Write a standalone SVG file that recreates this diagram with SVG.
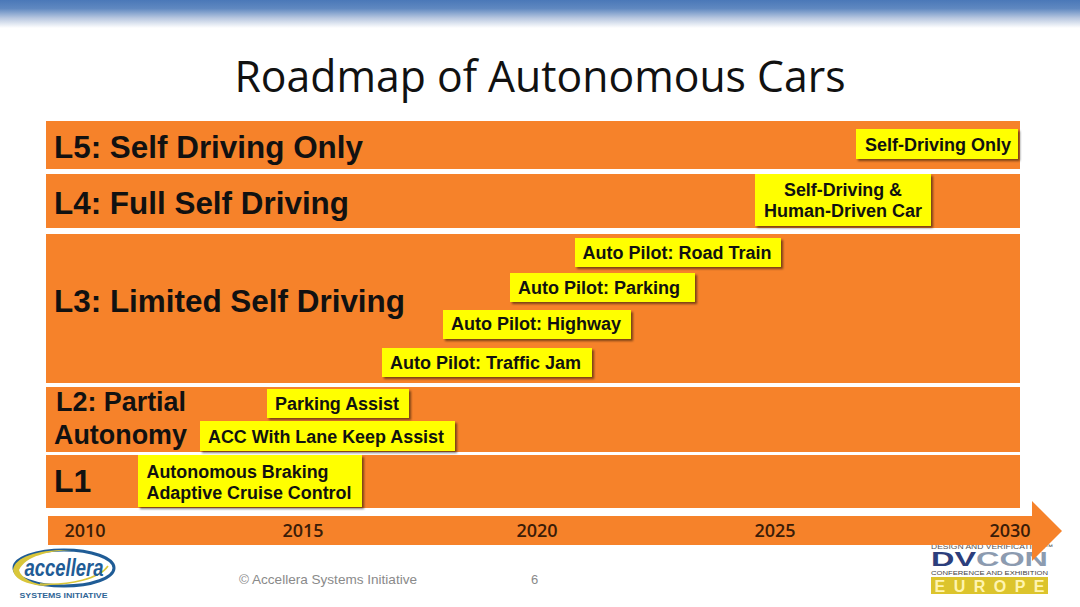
<svg xmlns="http://www.w3.org/2000/svg" width="1080" height="607" viewBox="0 0 1080 607">
<defs>
<linearGradient id="top" x1="0" y1="0" x2="0" y2="1"><stop offset="0" stop-color="#4a78b8"/><stop offset="0.3" stop-color="#5f88c0"/><stop offset="0.65" stop-color="#b9c8e0"/><stop offset="1" stop-color="#ffffff"/></linearGradient>
<filter id="sh" x="-10%" y="-20%" width="120%" height="140%"><feDropShadow dx="2" dy="2" stdDeviation="1.3" flood-color="#000" flood-opacity="0.5"/></filter>
</defs>
<style>
.band{fill:#f6822a}
.lv{font:bold 32px "Liberation Sans",Arial,sans-serif;fill:#111}
.lv2{font:bold 27px "Liberation Sans",Arial,sans-serif;fill:#111}
.box{fill:#ffff00;filter:url(#sh)}
.bt{font:bold 18px "Liberation Sans",Arial,sans-serif;fill:#111}
.yr{font:600 18px "Open Sans",sans-serif;fill:#3a1c08}
.ft{font:13px "Liberation Sans",Arial,sans-serif;fill:#8a8a8a}
</style>
<rect width="1080" height="607" fill="#fff"/>
<rect width="1080" height="28" fill="url(#top)"/>
<text x="540" y="92" text-anchor="middle" font-family="'Open Sans',sans-serif" font-size="43" fill="#111" textLength="611" lengthAdjust="spacingAndGlyphs">Roadmap of Autonomous Cars</text>

<g id="dvcon-logo">
<text x="931" y="549" font-family="'Liberation Sans',sans-serif" font-size="6.5" fill="#555" textLength="122" lengthAdjust="spacingAndGlyphs">DESIGN AND VERIFICATION™</text>
<text x="931" y="566" font-family="'Liberation Sans',sans-serif" font-weight="bold" font-size="19.5" textLength="117" lengthAdjust="spacingAndGlyphs" fill="#2c3e7c">DV<tspan fill="#8c9bb0">CON</tspan></text>
<text x="931" y="574.500" font-family="'Liberation Sans',sans-serif" font-size="5.5" fill="#444" textLength="117" lengthAdjust="spacingAndGlyphs">CONFERENCE AND EXHIBITION</text>
<rect x="931" y="577" width="117" height="17" fill="#dcc42c"/>
<text x="989.500" y="591.500" text-anchor="middle" font-family="'Liberation Sans',sans-serif" font-weight="bold" font-size="16" fill="#fff4b0" textLength="110" lengthAdjust="spacing">EUROPE</text>
</g>

<g id="band-l5"><rect class="band" x="46" y="121" width="974" height="48"/><text class="lv" x="54" y="158" textLength="309" lengthAdjust="spacingAndGlyphs">L5: Self Driving Only</text></g>
<g id="band-l4"><rect class="band" x="46" y="174" width="974" height="54"/><text class="lv" x="54" y="214" textLength="295" lengthAdjust="spacingAndGlyphs">L4: Full Self Driving</text></g>
<g id="band-l3"><rect class="band" x="46" y="234" width="974" height="149"/><text class="lv" x="54" y="312" textLength="351" lengthAdjust="spacingAndGlyphs">L3: Limited Self Driving</text></g>
<g id="band-l2"><rect class="band" x="46" y="387" width="974" height="65"/><text class="lv2" x="56" y="411" textLength="130" lengthAdjust="spacingAndGlyphs">L2: Partial</text><text class="lv2" x="54" y="444" textLength="133" lengthAdjust="spacingAndGlyphs">Autonomy</text></g>
<g id="band-l1"><rect class="band" x="46" y="455" width="974" height="53"/><text class="lv" x="54" y="492">L1</text></g>

<g id="timeline">
<path class="band" d="M48 516H1032V501L1062 531L1032 561V545H48Z"/>
<text class="yr" x="85" y="537" text-anchor="middle">2010</text>
<text class="yr" x="303" y="537" text-anchor="middle">2015</text>
<text class="yr" x="537" y="537" text-anchor="middle">2020</text>
<text class="yr" x="775" y="537" text-anchor="middle">2025</text>
<text class="yr" x="1010" y="537" text-anchor="middle">2030</text>
</g>

<g id="self-driving-only"><rect class="box" x="856" y="129" width="162" height="30"/><text class="bt" x="938" y="151" text-anchor="middle" textLength="146" lengthAdjust="spacingAndGlyphs">Self-Driving Only</text></g>
<g id="self-driving-human"><rect class="box" x="755" y="174" width="176" height="52"/><text class="bt" x="843" y="196" text-anchor="middle" textLength="118" lengthAdjust="spacingAndGlyphs">Self-Driving &amp;</text><text class="bt" x="843" y="217" text-anchor="middle" textLength="158" lengthAdjust="spacingAndGlyphs">Human-Driven Car</text></g>
<g id="road-train"><rect class="box" x="575" y="238" width="206" height="29"/><text class="bt" x="677" y="259" text-anchor="middle" textLength="189" lengthAdjust="spacingAndGlyphs">Auto Pilot: Road Train</text></g>
<g id="parking"><rect class="box" x="510" y="273" width="185" height="29"/><text class="bt" x="599" y="294" text-anchor="middle" textLength="162" lengthAdjust="spacingAndGlyphs">Auto Pilot: Parking</text></g>
<g id="highway"><rect class="box" x="443" y="310" width="188" height="29"/><text class="bt" x="536" y="330" text-anchor="middle" textLength="170" lengthAdjust="spacingAndGlyphs">Auto Pilot: Highway</text></g>
<g id="traffic-jam"><rect class="box" x="382" y="348" width="210" height="29"/><text class="bt" x="485.500" y="369" text-anchor="middle" textLength="191" lengthAdjust="spacingAndGlyphs">Auto Pilot: Traffic Jam</text></g>
<g id="parking-assist"><rect class="box" x="267" y="389" width="142" height="29"/><text class="bt" x="337" y="410" text-anchor="middle" textLength="124" lengthAdjust="spacingAndGlyphs">Parking Assist</text></g>
<g id="acc-lane"><rect class="box" x="200" y="421" width="255" height="30"/><text class="bt" x="326" y="443" text-anchor="middle" textLength="236" lengthAdjust="spacingAndGlyphs">ACC With Lane Keep Assist</text></g>
<g id="l1-box"><rect class="box" x="138" y="455" width="224" height="52"/><text class="bt" x="146.500" y="477.500" textLength="182" lengthAdjust="spacingAndGlyphs">Autonomous Braking</text><text class="bt" x="146.500" y="498.500" textLength="205" lengthAdjust="spacingAndGlyphs">Adaptive Cruise Control</text></g>

<g id="accellera-logo">
<ellipse cx="64" cy="568" rx="50" ry="18" fill="#fff" stroke="#1f5c96" stroke-width="3"/>
<path d="M13 570C15 556 40 549 72 550C48 551 26 556 19 570C21 578 32 584 50 586C30 586 14 580 13 570Z" fill="#d9c63a"/>
<path d="M40 584C70 586 100 578 108 566" fill="none" stroke="#d9c63a" stroke-width="1.5"/>
<text x="64" y="576" text-anchor="middle" font-family="'Liberation Sans',sans-serif" font-weight="bold" font-style="italic" font-size="24" fill="#1f5c96" textLength="79" lengthAdjust="spacingAndGlyphs">accellera</text>
<text x="63.500" y="598" text-anchor="middle" font-family="'Liberation Sans',sans-serif" font-weight="bold" font-size="8" fill="#2f6596" textLength="88" lengthAdjust="spacingAndGlyphs">SYSTEMS INITIATIVE</text>
</g>

<text class="ft" x="239" y="584" textLength="178" lengthAdjust="spacingAndGlyphs">© Accellera Systems Initiative</text>
<text class="ft" x="531" y="584">6</text>
</svg>
